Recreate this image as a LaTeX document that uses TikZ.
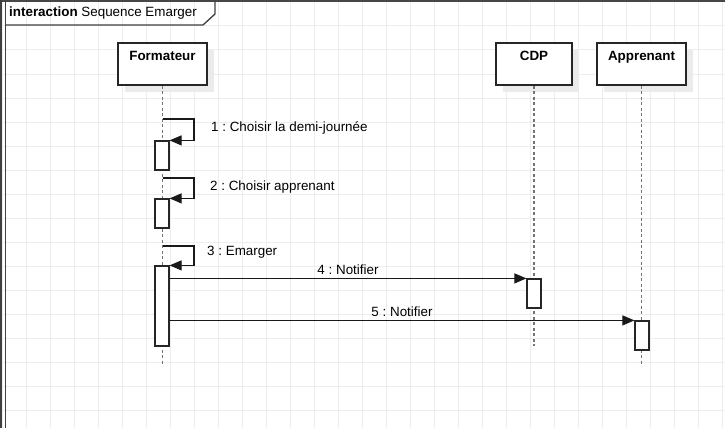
\documentclass[tikz,border=0pt]{standalone}
\usepackage{fontspec}
\setmainfont{Liberation Sans}
\usetikzlibrary{arrows.meta,shadows}
\frenchspacing

\tikzset{
  gridline/.style={draw=black!7,line width=1pt},
  framerule/.style={draw=black!75,line width=1.3pt},
  lifebox/.style={draw=black!85,line width=1.2pt,fill=white,minimum height=42pt,inner sep=0pt,
    drop shadow={shadow xshift=7pt,shadow yshift=-7pt,fill=black!8,opacity=1}},
  lifeline/.style={draw=black!55,line width=1.6pt,dash pattern=on 3pt off 2.5pt},
  actbox/.style={draw=black!85,line width=1.2pt,fill=white,minimum width=14pt,inner sep=0pt},
  msg/.style={draw=black!90,line width=1.1pt,-{Triangle[length=12pt,width=10pt]}},
  msglabel/.style={inner sep=0pt,anchor=west}
}

\begin{document}
\begin{tikzpicture}[x=1pt,y=-1pt,font=\fontsize{13.4}{16}\selectfont]
\useasboundingbox (0,0) rectangle (725,428);
\fill[white] (0,0) rectangle (725,428);
% grid
\foreach \gx in {2,26,...,722} \draw[gridline] (\gx,0) -- (\gx,428);
\foreach \gy in {2,26,...,426} \draw[gridline] (0,\gy) -- (725,\gy);

% frame and its tab
\fill[black!72] (0,0) rectangle (725,2.2);
\fill[black!75] (0,0) rectangle (1.6,428);
\draw[framerule] (5.8,1) -- (5.8,428);
\draw[framerule] (5.8,25) -- (203,25) -- (215,14) -- (215,1);
\node (title) [anchor=west,inner sep=0pt] at (9,13.5) {\textbf{interaction} Sequence Emarger};

% lifelines
\node (fmt) [lifebox,minimum width=89pt,
  label={[anchor=north,inner sep=0pt,yshift=-9pt]north:\textbf{Formateur}}] at (162.5,64) {};
\node (cdp) [lifebox,minimum width=76pt,
  label={[anchor=north,inner sep=0pt,yshift=-9pt]north:\textbf{CDP}}] at (534,64) {};
\node (app) [lifebox,minimum width=89pt,
  label={[anchor=north,inner sep=0pt,yshift=-9pt]north:\textbf{Apprenant}}] at (641.5,64) {};

\coordinate (fmtEnd) at (162.5,365);
\coordinate (cdpEnd) at (534,346);
\coordinate (appEnd) at (641.5,365);
\draw[lifeline] (fmt.south) -- (fmtEnd);
\draw[lifeline] (cdp.south) -- (cdpEnd);
\draw[lifeline] (app.south) -- (appEnd);

% activations
\node (act1) [actbox,minimum height=29pt] at (162,155.5) {};
\node (act2) [actbox,minimum height=29pt] at (162,213.5) {};
\node (act3) [actbox,minimum height=80pt] at (162,306) {};
\node (act4) [actbox,minimum height=29pt] at (534,293.5) {};
\node (act5) [actbox,minimum height=29pt] at (642,335.5) {};

% self messages
\coordinate (s1) at (162.5,119);
\coordinate (s2) at (162.5,178);
\coordinate (s3) at (162.5,246);
\draw[msg] (s1) -- ++(31.5,0) |- (act1.north east);
\draw[msg] (s2) -- ++(31.5,0) |- (act2.north east);
\draw[msg] (s3) -- ++(31.5,0) |- (act3.north east);
\node (l1) [msglabel] at (211,128) {1 : Choisir la demi-journée};
\node (l2) [msglabel] at (210,187) {2 : Choisir apprenant};
\node (l3) [msglabel] at (207,252) {3 : Emarger};

% messages
\draw[msg] (act3.east |- act4.north west) -- node[midway,above,inner sep=3.5pt] (l4) {4 : Notifier} (act4.north west);
\draw[msg] (act3.east |- act5.north west) -- node[midway,above,inner sep=3.5pt] (l5) {5 : Notifier} (act5.north west);
\end{tikzpicture}
\end{document}
